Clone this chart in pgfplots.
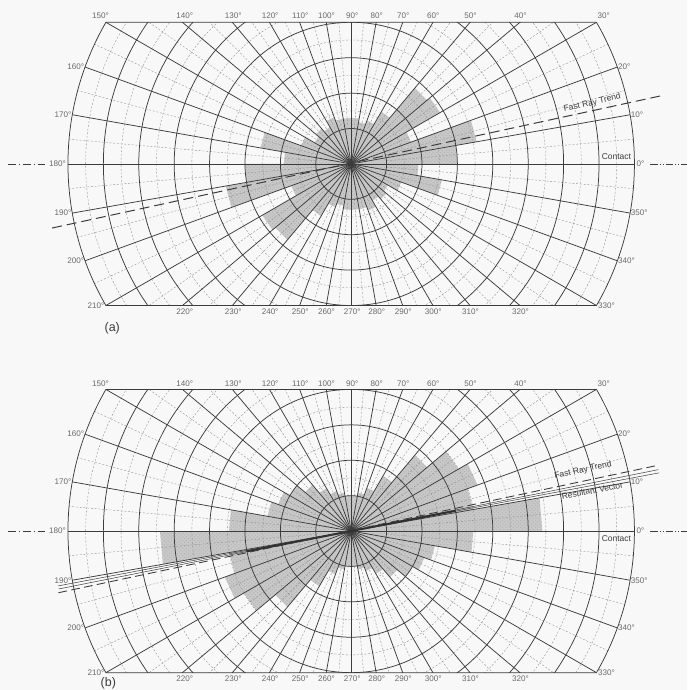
\documentclass[border=0pt]{standalone}
\usepackage{pgfplots}
\pgfplotsset{compat=1.18}
\usepgfplotslibrary{polar}
\usetikzlibrary{patterns}
\usepackage{fontspec}
\setmainfont{Liberation Sans}

\definecolor{bgc}{HTML}{F8F8F8}
\definecolor{gridc}{HTML}{3C3C3C}
\definecolor{finec}{HTML}{909090}
\definecolor{petal}{HTML}{C8C8C8}
\definecolor{labc}{HTML}{6A6A6A}

\tikzset{
  major/.style={draw=gridc, line width=0.6pt},
  minor/.style={draw=finec, line width=0.3pt, dash pattern=on 1.6pt off 1.4pt},
  deg/.style={font=\fontsize{6.5}{7}\selectfont, text=labc, inner sep=1pt},
  note/.style={font=\fontsize{6.8}{7}\selectfont, text=gridc, inner sep=0.5pt},
  contactline/.style={draw=gridc, line width=0.6pt, dash pattern=on 7pt off 2pt on 1pt off 2pt},
}

\pgfplotsset{
  rose/.style={x=1cm, y=1cm, xmin=-8, xmax=8, ymin=-4, ymax=4,
    axis lines=none, clip=false, anchor=center},
  petals/.style={fill=petal, draw=none, data cs=polar,
    postaction={pattern=crosshatch dots, pattern color=black!30}},
}

% azimuth net: 10-degree rays, 5-degree fine rays, rings every unit
\newcommand\azimuthnet{%
  \begin{scope}
    \clip (-8,-4) rectangle (8,4);
    \pgfplotsinvokeforeach{5,15,...,355}{\draw[minor] ({cos(##1)},{sin(##1)}) -- ({8*cos(##1)},{8*sin(##1)});}
    \pgfplotsinvokeforeach{1.5,2.5,...,7.5}{\draw[minor] (0,0) circle[radius=##1];}
    \pgfplotsinvokeforeach{1,...,7}{\draw[major] (0,0) circle[radius=##1];}
    \pgfplotsinvokeforeach{0,10,...,350}{\draw[major] (0,0) -- ({8*cos(##1)},{8*sin(##1)});}
  \end{scope}
  \draw[major] (-6.9282,4) -- (6.9282,4) arc[start angle=30, end angle=-30, radius=8]
    -- (-6.9282,-4) arc[start angle=210, end angle=150, radius=8] -- cycle;
  % bearing labels
  \node[deg, anchor=south] at (-7.08,4.05) {150°};
  \node[deg, anchor=south] at (-4.70,4.05) {140°};
  \node[deg, anchor=south] at (-3.33,4.05) {130°};
  \node[deg, anchor=south] at (-2.29,4.05) {120°};
  \node[deg, anchor=south] at (-1.44,4.05) {110°};
  \node[deg, anchor=south] at (-0.70,4.05) {100°};
  \node[deg, anchor=south] at (0.03,4.05) {90°};
  \node[deg, anchor=south] at (0.72,4.05) {80°};
  \node[deg, anchor=south] at (1.47,4.05) {70°};
  \node[deg, anchor=south] at (2.32,4.05) {60°};
  \node[deg, anchor=south] at (3.37,4.05) {50°};
  \node[deg, anchor=south] at (4.78,4.05) {40°};
  \node[deg, anchor=south] at (7.13,4.05) {30°};
  \node[deg, anchor=east] at (-7.50,2.74) {160°};
  \node[deg, anchor=east] at (-7.86,1.39) {170°};
  \node[deg, anchor=east] at (-8.02,0) {180°};
  \node[deg, anchor=east] at (-7.86,-1.39) {190°};
  \node[deg, anchor=east] at (-7.50,-2.74) {200°};
  \node[deg, anchor=east] at (-6.93,-4) {210°};
  \node[deg, anchor=north] at (-4.70,-4.06) {220°};
  \node[deg, anchor=north] at (-3.33,-4.06) {230°};
  \node[deg, anchor=north] at (-2.29,-4.06) {240°};
  \node[deg, anchor=north] at (-1.44,-4.06) {250°};
  \node[deg, anchor=north] at (-0.70,-4.06) {260°};
  \node[deg, anchor=north] at (0.03,-4.06) {270°};
  \node[deg, anchor=north] at (0.72,-4.06) {280°};
  \node[deg, anchor=north] at (1.47,-4.06) {290°};
  \node[deg, anchor=north] at (2.32,-4.06) {300°};
  \node[deg, anchor=north] at (3.37,-4.06) {310°};
  \node[deg, anchor=north] at (4.78,-4.06) {320°};
  \node[deg, anchor=west] at (6.93,-4) {330°};
  \node[deg, anchor=west] at (7.50,-2.74) {340°};
  \node[deg, anchor=west] at (7.86,-1.39) {350°};
  \node[deg, anchor=west] at (8.02,0) {0°};
  \node[deg, anchor=west] at (7.86,1.39) {10°};
  \node[deg, anchor=west] at (7.50,2.74) {20°};
  % contact trace beyond the net
  \draw[contactline] (-9.70,0) -- (-8.66,0);
  \draw[draw=gridc, line width=0.6pt, dash pattern=on 6pt off 1.6pt on 0.8pt off 1.6pt on 0.8pt off 1.6pt] (8.45,0) -- (9.49,0);
}

\begin{document}
\begin{tikzpicture}
\path[fill=bgc, use as bounding box] (-9.92,-4.49) rectangle (9.49,15.0);

% ---------------- (a) ----------------
\begin{scope}[yshift=10.37cm]
\begin{axis}[rose, at={(0cm,0cm)}]
  % rose of ray azimuths, 10-degree classes (axial, so each class repeats at +180)
  \addplot[petals] coordinates {
    (0,3.0) (10,3.0) (10,3.6) (20,3.6) (20,1.8) (30,1.8) (30,2.9) (40,2.9)
    (40,2.8) (50,2.8) (50,1.7) (60,1.7) (60,1.3) (70,1.3) (70,1.2) (80,1.2)
    (80,1.3) (90,1.3) (90,1.3) (100,1.3) (100,1.3) (110,1.3) (110,1.4) (120,1.4)
    (120,1.2) (130,1.2) (130,1.3) (140,1.3) (140,1.2) (150,1.2) (150,1.5) (160,1.5)
    (160,2.6) (170,2.6) (170,1.9) (180,1.9)
    (180,3.0) (190,3.0) (190,3.6) (200,3.6) (200,1.8) (210,1.8) (210,2.9) (220,2.9)
    (220,2.8) (230,2.8) (230,1.7) (240,1.7) (240,1.3) (250,1.3) (250,1.2) (260,1.2)
    (260,1.3) (270,1.3) (270,1.3) (280,1.3) (280,1.3) (290,1.3) (290,1.4) (300,1.4)
    (300,1.2) (310,1.2) (310,1.3) (320,1.3) (320,1.2) (330,1.2) (330,1.5) (340,1.5)
    (340,2.6) (350,2.6) (350,1.9) (360,1.9)};
  \azimuthnet
  % fast ray trend
  \addplot[draw=gridc, line width=0.8pt, dash pattern=on 8pt off 4pt, data cs=polar]
    coordinates {(192.1,8.64) (12.4,8.93)};
  \node[note, rotate=12.4] at (6.81,1.72) {Fast Ray Trend};
  \node[note] at (7.49,0.2) {Contact};
  \node[font=\fontsize{10}{11}\selectfont, text=gridc] at (-6.75,-4.63) {(a)};
\end{axis}
\end{scope}

% ---------------- (b) ----------------
\begin{axis}[rose, at={(0cm,0cm)}]
  \addplot[petals] coordinates {
    (0,5.4) (10,5.4) (10,3.5) (20,3.5) (20,3.8) (30,3.8) (30,3.5) (40,3.5)
    (40,2.8) (50,2.8) (50,1.8) (60,1.8) (60,1.3) (70,1.3) (70,1.1) (80,1.1)
    (80,1.0) (90,1.0) (90,1.0) (100,1.0) (100,1.1) (110,1.1) (110,1.2) (120,1.2)
    (120,1.4) (130,1.4) (130,1.7) (140,1.7) (140,2.0) (150,2.0) (150,2.2) (160,2.2)
    (160,2.4) (170,2.4) (170,3.45) (180,3.45)
    (180,5.4) (190,5.4) (190,3.5) (200,3.5) (200,3.8) (210,3.8) (210,3.5) (220,3.5)
    (220,2.8) (230,2.8) (230,1.8) (240,1.8) (240,1.3) (250,1.3) (250,1.1) (260,1.1)
    (260,1.0) (270,1.0) (270,1.0) (280,1.0) (280,1.1) (290,1.1) (290,1.2) (300,1.2)
    (300,1.4) (310,1.4) (310,1.7) (320,1.7) (320,2.0) (330,2.0) (330,2.2) (340,2.2)
    (340,2.4) (350,2.4) (350,3.45) (360,3.45)};
  \azimuthnet
  % resultant vector (paired thin lines) and its heavy central part
  \addplot[draw=gridc, line width=0.4pt, data cs=polar] coordinates {(190.6,8.42) (10.7,8.85)};
  \addplot[draw=gridc, line width=0.4pt, data cs=polar] coordinates {(191.2,8.42) (11.3,8.85)};
  \addplot[draw=gridc!80!black, line width=1.6pt, data cs=polar] coordinates {(191,3.0) (11,3.0)};
  % fast ray trend
  \addplot[draw=gridc, line width=0.7pt, dash pattern=on 7pt off 3.5pt, data cs=polar]
    coordinates {(191.9,8.45) (12.1,8.87)};
  \node[note, rotate=12] at (6.55,1.72) {Fast Ray Trend};
  \node[note, rotate=11] at (6.81,1.14) {Resultant Vector};
  \node[note] at (7.49,-0.2) {Contact};
  \node[font=\fontsize{10}{11}\selectfont, text=gridc] at (-6.86,-4.29) {(b)};
\end{axis}
\end{tikzpicture}
\end{document}
